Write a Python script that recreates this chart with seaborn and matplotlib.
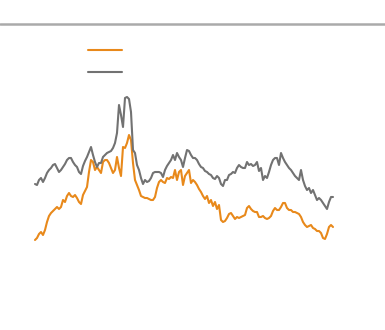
import matplotlib
matplotlib.use("Agg")
import matplotlib.pyplot as plt
from matplotlib.lines import Line2D
import pandas as pd
import seaborn as sns

# Two monthly series, values in percent
rate_a = [
    2.0, 2.4, 3.2, 3.6, 3.0, 4.0, 5.6, 6.8, 7.4, 7.8,
    8.2, 8.6, 8.2, 8.6, 10.0, 9.6, 10.8, 11.4, 10.8, 10.6,
    11.0, 10.4, 9.6, 9.2, 11.0, 11.8, 12.6, 15.6, 18.0, 17.6,
    16.0, 16.6, 16.0, 15.4, 17.6, 18.0, 18.0, 17.4, 16.4, 15.4,
    16.0, 18.6, 16.4, 14.8, 20.6, 20.4, 21.4, 23.0, 22.0, 17.4,
    14.0, 13.0, 12.0, 10.8, 10.6, 10.4, 10.4, 10.2, 10.0, 10.0,
    10.6, 12.4, 13.6, 14.0, 13.6, 13.4, 14.4, 14.2, 14.6, 14.4,
    16.0, 14.0, 15.6, 16.0, 13.0, 14.8, 15.4, 16.0, 13.4, 14.0,
    13.6, 13.0, 12.2, 11.6, 10.8, 10.2, 10.8, 9.4, 10.0, 8.8,
    9.6, 8.2, 9.0, 6.0, 5.6, 5.8, 6.4, 7.2, 7.4, 6.8,
    6.2, 6.6, 6.4, 6.6, 6.8, 7.0, 8.4, 8.8, 8.2, 7.8,
    7.6, 7.6, 6.6, 6.6, 6.8, 6.4, 6.2, 6.4, 6.8, 7.8,
    8.4, 8.0, 8.0, 8.6, 9.4, 9.4, 8.4, 8.0, 8.0, 7.6,
    7.6, 7.4, 7.2, 6.6, 5.6, 5.0, 4.6, 4.8, 5.0, 4.4,
    4.2, 3.8, 3.8, 3.4, 2.4, 2.2, 3.2, 4.6, 5.0, 4.6,
]
rate_b = [
    13.2, 13.0, 14.0, 14.4, 13.6, 14.4, 15.4, 16.0, 16.4, 17.0,
    17.2, 16.4, 15.6, 16.0, 16.6, 17.2, 18.0, 18.4, 18.4, 17.6,
    17.0, 16.6, 15.6, 15.2, 16.8, 17.8, 18.6, 19.6, 20.6, 19.0,
    17.6, 16.6, 17.4, 17.4, 18.6, 19.0, 19.4, 19.6, 19.8, 20.4,
    21.4, 23.4, 29.0, 27.0, 24.6, 30.4, 30.6, 30.2, 27.6, 20.0,
    19.4, 17.0, 16.0, 14.4, 13.2, 14.0, 13.6, 13.8, 14.4, 15.4,
    15.6, 15.6, 15.6, 15.4, 14.6, 16.0, 16.8, 17.4, 18.0, 19.0,
    18.0, 19.4, 18.6, 18.0, 16.6, 18.4, 20.0, 19.8, 19.0, 18.4,
    18.4, 18.0, 17.2, 16.6, 16.4, 15.8, 15.6, 15.2, 15.0, 14.4,
    14.2, 14.8, 14.4, 13.2, 12.8, 14.0, 14.0, 15.0, 15.2, 15.6,
    15.4, 16.4, 17.0, 16.6, 16.4, 16.4, 17.6, 17.0, 17.2, 16.8,
    17.0, 17.6, 15.8, 16.4, 14.0, 14.8, 14.4, 15.6, 17.0, 18.0,
    18.4, 18.4, 17.0, 19.4, 18.4, 17.6, 17.0, 16.4, 16.0, 15.4,
    14.8, 14.4, 14.0, 16.0, 14.0, 12.8, 12.0, 12.4, 11.4, 12.0,
    11.0, 10.0, 10.4, 10.0, 9.4, 8.8, 8.2, 9.6, 10.6, 10.6,
]

ORANGE = "#E8891B"
GREY = "#727272"

df = pd.DataFrame({
    "month": list(range(len(rate_a))) + list(range(len(rate_b))),
    "value": rate_a + rate_b,
    "series": ["rate_a"] * len(rate_a) + ["rate_b"] * len(rate_b),
})

sns.set_style("white")
fig = plt.figure(figsize=(3.85, 3.30), dpi=100)
ax = fig.add_axes([0, 0, 1, 1])

sns.lineplot(data=df, x="month", y="value", hue="series",
             palette={"rate_a": ORANGE, "rate_b": GREY},
             linewidth=1.5, legend=False, ax=ax)

ax.set_xlim(-17.5, 175)
ax.set_ylim(-16, 50)
ax.axis("off")

# Rule across the top of the figure
fig.add_artist(Line2D([0, 1], [0.926, 0.926], transform=fig.transFigure,
                      color="#aaaaaa", linewidth=1.8))

# Legend keys without labels
handles = [Line2D([], [], color=ORANGE, linewidth=1.5),
           Line2D([], [], color=GREY, linewidth=1.5)]
fig.legend(handles, ["", ""], loc="upper left",
           bbox_to_anchor=(88 / 385, 1 - 44 / 330),
           frameon=False, fontsize=10, handlelength=2.45,
           handletextpad=0, borderpad=0, borderaxespad=0,
           labelspacing=0.55)

fig.savefig("out.png", dpi=100)
